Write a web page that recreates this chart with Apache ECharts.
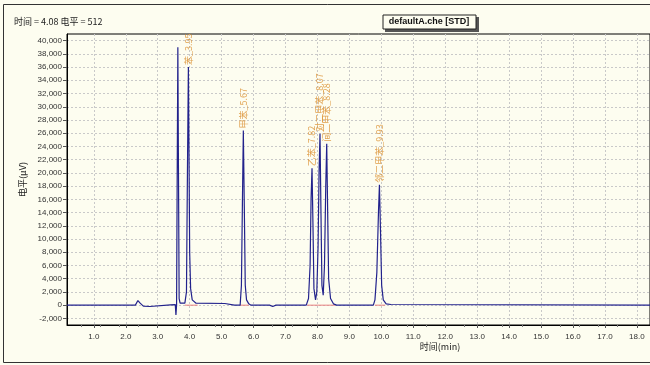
<!DOCTYPE html>
<html><head><meta charset="utf-8">
<script src="https://cdn.jsdelivr.net/npm/echarts@6/dist/echarts.min.js"></script>
<style>html,body{margin:0;padding:0;background:#dfe8f4;}#c{width:650px;height:365px;}</style>
</head><body><div id="c"></div>
<script>
// ---- data ----
const xTickLabels = [1,2,3,4,5,6,7,8,9,10,11,12,13,14,15,16,17,18];
const yTickValues = [-2000,0,2000,4000,6000,8000,10000,12000,14000,16000,18000,20000,22000,24000,26000,28000,30000,32000,34000,36000,38000,40000];
// chromatogram signal [time(min), level(uV)]
const signal = [
  [0.16,0],[2.3,0],[2.38,700],[2.45,300],[2.55,-150],[2.75,-200],[2.8,0],[3.4,50],[3.55,80],
  [3.57,-1500],[3.59,0],[3.61,20000],[3.63,39000],[3.65,20000],[3.67,1000],[3.7,300],
  [3.85,300],[3.9,2000],[3.93,20000],[3.96,36000],[3.98,22000],[4.0,8000],[4.03,2500],[4.08,800],[4.2,300],[5.1,250],[5.15,0],
  [5.4,0],[5.42,300],[5.44,0],
  [5.58,0],[5.62,3000],[5.65,15000],[5.68,26400],[5.71,15000],[5.74,3000],[5.78,800],[5.85,200],[5.9,400],[5.92,0],[6.5,0],[6.6,-200],[6.7,0],
  [7.65,0],[7.72,1000],[7.77,6000],[7.8,16000],[7.83,20700],[7.86,12000],[7.89,2500],[7.94,800],[7.98,2000],[8.02,9000],[8.05,20000],[8.08,25900],[8.11,14000],[8.14,3000],[8.18,1500],[8.22,6000],[8.26,18000],[8.29,24400],[8.32,14000],[8.35,4000],[8.41,1000],[8.5,200],[8.6,0],
  [9.25,0],[9.3,200],[9.35,0],[9.6,0],[9.62,250],[9.64,0],[9.75,0],[9.8,800],[9.86,5000],[9.91,14000],[9.94,18200],[9.97,12000],[10.01,3000],[10.06,800],[10.15,200],[10.3,100],[10.32,400],[10.34,0],[18.41,0]
];
const peakNames = ['苯_3.95','甲苯_5.67','乙苯_7.82','对二甲苯_8.07','间二甲苯_8.28','邻二甲苯_9.93'];
const peakTimes = [3.96,5.68,7.83,8.08,8.29,9.94];
const peakHeights = [36000,26400,20700,25900,24400,18200];
const integrationBaselines = [[3.85,4.25],[5.58,5.85],[7.68,8.55],[9.8,10.12]];

// ---- chart ----
const chart = echarts.init(document.getElementById('c'), null, {renderer:'canvas'});
const font = 'Liberation Sans, Arial, sans-serif';
const series = [{
  type:'line', data: signal, showSymbol:false, symbol:'none',
  lineStyle:{color:'#22228c', width:1.2}, z:3, animation:false
},{
  type:'scatter', symbolSize:0, z:4, animation:false,
  data: peakTimes.map((t,i)=>({value:[t,peakHeights[i]], name:peakNames[i]})),
  label:{show:true, position:'top', distance:2, rotate:90, align:'left', verticalAlign:'middle',
    formatter:p=>p.name, color:'#d98a26', fontSize:9, fontFamily:'Noto Sans CJK SC'}
}];
integrationBaselines.forEach(b=>{
  series.push({type:'line', data:[[b[0],0],[b[1],0]], symbol:'none', animation:false, z:2,
    lineStyle:{color:'#e88080', width:1}});
});

chart.setOption({
  backgroundColor:'#fdfdf0',
  animation:false,
  grid:{left:67, top:34, width:585, height:291, show:true, borderColor:'#000', borderWidth:1, backgroundColor:'#fdfdf0'},
  xAxis:{type:'value', min:0.16, max:18.41,
    axisLine:{show:true, onZero:false, lineStyle:{color:'#000'}},
    axisTick:{show:true, customValues:xTickLabels, length:3, lineStyle:{color:'#555'}},
    minorTick:{show:true, splitNumber:5, length:2, lineStyle:{color:'#777'}},
    axisLabel:{customValues:xTickLabels, formatter:v=>v.toFixed(1), fontSize:8, color:'#333', fontFamily:font, margin:8},
    splitLine:{show:true, lineStyle:{color:'#c9c9c9', type:[2,2], width:1}}
  },
  yAxis:{type:'value', min:-3000, max:41000,
    axisLine:{show:true, onZero:false, lineStyle:{color:'#000'}},
    axisTick:{show:true, customValues:yTickValues, length:4, lineStyle:{color:'#555'}},
    axisLabel:{customValues:yTickValues, formatter:v=>v.toLocaleString('en-US'), fontSize:8, color:'#333', fontFamily:font, margin:5},
    splitLine:{show:true, lineStyle:{color:'#c9c9c9', type:[2,2], width:1}},
    name:'电平(μV)', nameLocation:'middle', nameRotate:90, nameGap:34,
    nameTextStyle:{fontSize:9, color:'#222', fontFamily:'Noto Sans CJK SC'}
  },
  graphic:[
    {type:'rect', shape:{x:3.5, y:4.5, width:660, height:358}, style:{fill:null, stroke:'#333', lineWidth:1}, silent:true},
    {type:'text', x:14, y:17, style:{text:'时间 = 4.08 电平 = 512', fontSize:9, fill:'#222', fontFamily:'Noto Sans CJK SC'}},
    {type:'rect', shape:{x:385, y:17, width:94, height:15}, style:{fill:'#555'}},
    {type:'rect', shape:{x:383, y:15, width:93, height:14}, style:{fill:'#fdfdf0', stroke:'#222', lineWidth:1}},
    {type:'text', x:429, y:22, style:{text:'defaultA.che [STD]', fontSize:9, fontWeight:'bold', fill:'#111', align:'center', verticalAlign:'middle', fontFamily:font}},
    {type:'text', x:440, y:347, style:{text:'时间(min)', fontSize:9, fill:'#222', align:'center', verticalAlign:'middle', fontFamily:'Noto Sans CJK SC'}}
  ],
  series: series
});
</script></body></html>
